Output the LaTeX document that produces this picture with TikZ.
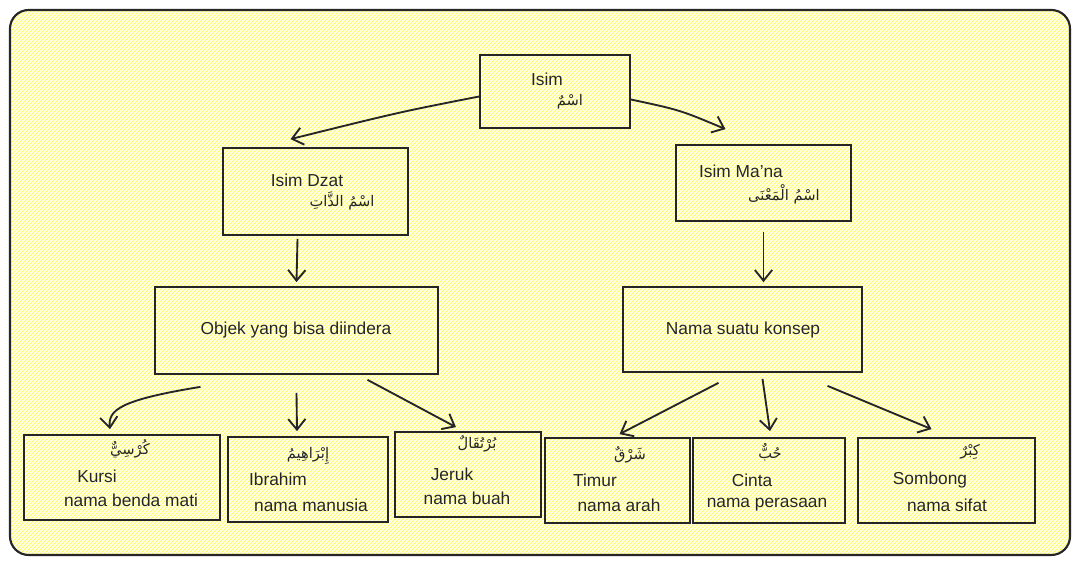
\documentclass[tikz,border=0pt]{standalone}
\usepackage{fontspec}
\setmainfont{Liberation Sans}
\newfontfamily\arabfont[Script=Arabic]{DejaVu Sans}
\usetikzlibrary{patterns,calc,arrows.meta}
\newcommand{\ar}[1]{{\arabfont\beginR #1\endR}}
\begin{document}
\TeXXeTstate=1
\begin{tikzpicture}[x=0.75pt,y=-0.75pt,
  box/.style={draw=black!85,line width=1.3pt,fill=none,inner sep=0pt},
  lbl/.style={font=\fontsize{13}{15}\selectfont,text=black!85},
  albl/.style={font=\fontsize{11}{13}\selectfont,text=black!85},
  arr/.style={draw=black!85,line width=1.4pt,-{Straight Barb[length=8pt,width=13pt]}}]
\useasboundingbox (0,0) rectangle (1080,566);
\fill[white] (0,0) rectangle (1080,566);
\path[fill=yellow!10,rounded corners=14pt] (10,10) rectangle (1070,555);
\path[pattern=north east lines,pattern color=yellow!70,rounded corners=14pt] (10,10) rectangle (1070,555);
\draw[line width=1.6pt,black!85,rounded corners=14pt] (10,10) rectangle (1070,555);
% boxes
\node[box,minimum width=112.5pt,minimum height=54.75pt] (isim) at (555,91.5) {};
\node[box,minimum width=138.75pt,minimum height=65.25pt] (dzat) at (315.5,191.5) {};
\node[box,minimum width=131.25pt,minimum height=57pt] (mana) at (763.5,183) {};
\node[box,minimum width=212.25pt,minimum height=65.25pt] (objek) at (296.5,330.5) {};
\node[box,minimum width=179.25pt,minimum height=63.75pt] (konsep) at (742.5,329.5) {};
\node[box,minimum width=147pt,minimum height=63.75pt] (kursi) at (122,477.5) {};
\node[box,minimum width=120pt,minimum height=63.75pt] (ibrahim) at (308,479.5) {};
\node[box,minimum width=109.5pt,minimum height=63.75pt] (jeruk) at (468,474.5) {};
\node[box,minimum width=108.75pt,minimum height=63.75pt] (timur) at (617.5,480.5) {};
\node[box,minimum width=114pt,minimum height=63.75pt] (cinta) at (769,480.5) {};
\node[box,minimum width=132.75pt,minimum height=63.75pt] (sombong) at (946.5,480.5) {};
% texts
\node[lbl] (t1) at (547,79) {Isim};
\node[albl] (a1) at (570,102) {\ar{اسْمٌ}};
\node[lbl] (t2) at (307,180) {Isim Dzat};
\node[albl] (a2) at (342,201) {\ar{اسْمُ الذَّاتِ}};
\node[lbl] (t3) at (741,171) {Isim Ma'na};
\node[albl] (a3) at (784,194) {\ar{اسْمُ الْمَعْنَى}};
\node[lbl] (t4) at (296,330) {Objek yang bisa diindera};
\node[lbl] (t5) at (743,330) {Nama suatu konsep};
\node[albl] (a6) at (130,449) {\ar{كُرْسِيٌّ}};
\node[lbl] (t6) at (97,476) {Kursi};
\node[lbl] (n6) at (131,500) {nama benda mati};
\node[albl] (a7) at (308,456) {\ar{إِبْرَاهِيمُ}};
\node[lbl] (t7) at (278,479) {Ibrahim};
\node[lbl] (n7) at (311,505) {nama manusia};
\node[albl] (a8) at (477,444) {\ar{بُرْتُقَالٌ}};
\node[lbl] (t8) at (452,474) {Jeruk};
\node[lbl] (n8) at (467,498) {nama buah};
\node[albl] (a9) at (630,455) {\ar{شَرْقٌ}};
\node[lbl] (t9) at (595,480) {Timur};
\node[lbl] (n9) at (619,505) {nama arah};
\node[albl] (a10) at (770,452) {\ar{حُبٌّ}};
\node[lbl] (t10) at (752,480) {Cinta};
\node[lbl] (n10) at (767,505) {nama perasaan};
\node[albl] (a11) at (970,452) {\ar{كِبْرٌ}};
\node[lbl] (t11) at (930,480) {Sombong};
\node[lbl] (n11) at (947,505) {nama sifat};
% arrows
\draw[arr] ($(isim.west)+(0,5)$) .. controls (400,112) .. ($(dzat.north)+(-25,-8)$);
\draw[arr] ($(isim.east)+(0,8)$) .. controls (680,110) .. ($(mana.north)+(-38,-15)$);
\draw[arr] ($(dzat.south)+(-18,3)$) -- ($(objek.north)+(0,-4)$);
\draw[arr] ($(mana.south)+(0,10)$) -- ($(konsep.north)+(21,-4)$);
\draw[arr] ($(objek.south)+(-96,12)$) .. controls (120,400) and (108,410) .. ($(kursi.north)+(-12,-5)$);
\draw[arr] ($(objek.south)+(0,18)$) -- ($(ibrahim.north)+(-11,-5)$);
\draw[arr] ($(objek.south)+(71,5)$) -- ($(jeruk.north)+(-12,-4)$);
\draw[arr] ($(konsep.south)+(-24,10)$) -- ($(timur.north)+(2,-3)$);
\draw[arr] ($(konsep.south)+(20,6)$) -- ($(cinta.north)+(1,-6)$);
\draw[arr] ($(konsep.south)+(85,13)$) -- ($(sombong.north)+(-15,-8)$);
\end{tikzpicture}
\end{document}
